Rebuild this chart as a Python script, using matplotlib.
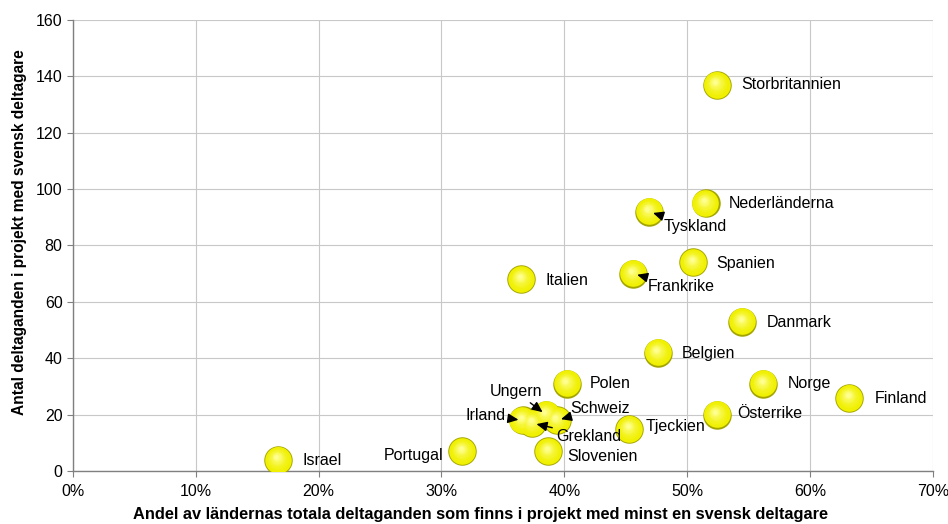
import matplotlib

matplotlib.use("Agg")
import matplotlib.pyplot as plt
import numpy as np
from matplotlib.colors import to_rgb
from matplotlib.ticker import FuncFormatter
from matplotlib.transforms import offset_copy

plt.rcParams["font.family"] = ["Liberation Sans", "DejaVu Sans"]

countries = [
    "Storbritannien", "Nederländerna", "Tyskland", "Spanien", "Italien",
    "Frankrike", "Danmark", "Belgien", "Norge", "Finland", "Polen",
    "Österrike", "Tjeckien", "Ungern", "Irland", "Schweiz", "Grekland",
    "Slovenien", "Portugal", "Israel",
]
share = [
    0.524, 0.515, 0.469, 0.505, 0.365,
    0.456, 0.545, 0.476, 0.562, 0.632, 0.402,
    0.524, 0.453, 0.385, 0.366, 0.394, 0.374,
    0.387, 0.317, 0.167,
]
participations = [
    137, 95, 92, 74, 68,
    70, 53, 42, 31, 26, 31,
    20, 15, 20, 18, 18, 17,
    7, 7, 4,
]

# label placement in pixels relative to the bubble: (dx, dy, ha, arrow)
label_pos = {
    "Storbritannien": (25, 0, "left", False),
    "Nederländerna": (23, 0, "left", False),
    "Tyskland": (15, -15, "left", True),
    "Spanien": (23, -1, "left", False),
    "Italien": (24, -1, "left", False),
    "Frankrike": (15, -13, "left", True),
    "Danmark": (24, -1, "left", False),
    "Belgien": (24, -1, "left", False),
    "Norge": (24, 0, "left", False),
    "Finland": (25, -1, "left", False),
    "Polen": (23, 0, "left", False),
    "Österrike": (21, 1, "left", False),
    "Tjeckien": (16, 2, "left", False),
    "Ungern": (-4, 23, "right", True),
    "Irland": (-17, 5, "right", True),
    "Schweiz": (13, 12, "left", True),
    "Grekland": (24, -13, "left", True),
    "Slovenien": (19, -5, "left", False),
    "Portugal": (-19, -4, "right", False),
    "Israel": (24, -1, "left", False),
}

fig = plt.figure(figsize=(9.48, 5.24), dpi=100)
ax = fig.add_axes([0.077, 0.101, 0.907, 0.861])

x = np.array(share)
y = np.array(participations)

# shaded yellow bubbles: thin olive rim, bright body, soft highlight
rim = np.array(to_rgb("#a4a400"))
body = np.array(to_rgb("#f0f000"))
light = np.array(to_rgb("#ffff90"))
n_layers = 14
base_s = 420
for i in range(n_layers):
    t = i / (n_layers - 1)
    if t < 0.07:
        col = rim + (body - rim) * (t / 0.07)
    else:
        col = body + (light - body) * ((t - 0.07) / 0.93) ** 1.6
    size = base_s * (1 - t * 0.85) ** 2
    shift = 3.0 * t
    tr = offset_copy(ax.transData, fig=fig, x=-shift * 0.6, y=shift, units="dots")
    ax.scatter(x, y, s=size, color=np.clip(col, 0, 1), lw=0, transform=tr,
               zorder=3 + i * 0.01)

for name, xv, yv in zip(countries, share, participations):
    dx, dy, ha, arrow = label_pos[name]
    props = None
    if arrow:
        props = dict(arrowstyle="-|>,head_length=0.55,head_width=0.25",
                     color="black", lw=1.0, shrinkA=1, shrinkB=3)
    ax.annotate(name, xy=(xv, yv), xytext=(dx, dy), textcoords="offset pixels",
                ha=ha, va="center", fontsize=11.5, arrowprops=props, zorder=5)

ax.set_xlim(0, 0.7)
ax.set_ylim(0, 160)
ax.set_xticks(np.arange(0, 0.71, 0.1))
ax.set_yticks(np.arange(0, 161, 20))
ax.xaxis.set_major_formatter(FuncFormatter(lambda v, _: f"{v * 100:.0f}%"))
ax.grid(True, color="#c8c8c8", lw=0.8, zorder=0)
ax.set_axisbelow(True)
for side in ("top", "right"):
    ax.spines[side].set_visible(False)
for side in ("left", "bottom"):
    ax.spines[side].set_color("#808080")
    ax.spines[side].set_linewidth(1.0)
ax.tick_params(length=4, color="#808080", labelsize=11.5)
ax.tick_params(axis="x", pad=5)

ax.set_xlabel("Andel av ländernas totala deltaganden som finns i projekt med minst en svensk deltagare",
              fontsize=11.8, fontweight="bold")
ax.set_ylabel("Antal deltaganden i projekt med svensk deltagare",
              fontsize=11.2, fontweight="bold")
ax.xaxis.set_label_coords(0.474, -0.080)
ax.yaxis.set_label_coords(-0.0535, 0.53)

fig.savefig("out.png", dpi=100)
